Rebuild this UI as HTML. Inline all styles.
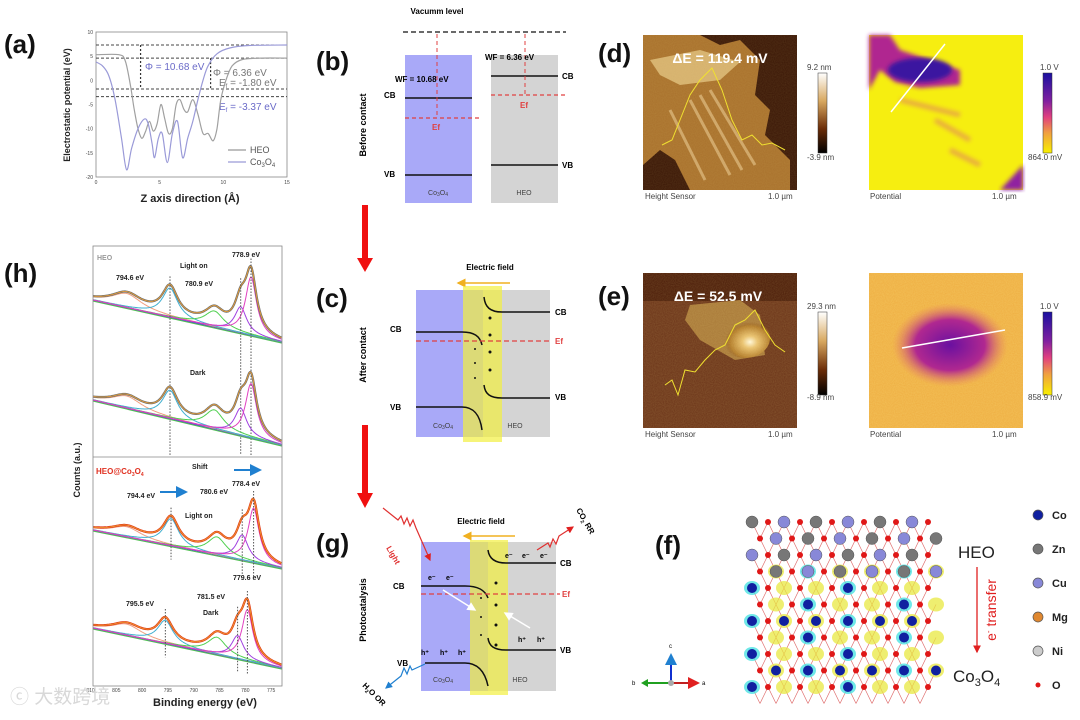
<!DOCTYPE html>
<html><head><meta charset="utf-8">
<style>
html,body{margin:0;padding:0;background:#fff;}
svg{display:block;font-family:"Liberation Sans","Noto Sans CJK SC",sans-serif;}
.pl{font-size:26px;font-weight:bold;fill:#111;}
.sm{font-size:9px;font-weight:bold;fill:#222;}
.tk{font-size:5px;fill:#444;}
</style></head>
<body>
<svg id="fig" width="1080" height="720" viewBox="0 0 1080 720" xmlns="http://www.w3.org/2000/svg">
<defs>
  <linearGradient id="hbar" x1="0" y1="0" x2="0" y2="1"><stop offset="0" stop-color="#fff"/><stop offset="0.35" stop-color="#d8a860"/><stop offset="0.7" stop-color="#6a2c08"/><stop offset="1" stop-color="#000"/></linearGradient>
  <linearGradient id="pbar" x1="0" y1="0" x2="0" y2="1"><stop offset="0" stop-color="#1a10a0"/><stop offset="0.35" stop-color="#8020a0"/><stop offset="0.55" stop-color="#e04080"/><stop offset="0.75" stop-color="#f0a040"/><stop offset="1" stop-color="#f8f000"/></linearGradient>
  <radialGradient id="blobE" cx="0.5" cy="0.5" r="0.5"><stop offset="0" stop-color="#6a10a0"/><stop offset="0.6" stop-color="#b02890"/><stop offset="1" stop-color="#e88060" stop-opacity="0"/></radialGradient>
  <radialGradient id="goldE" cx="0.6" cy="0.6" r="0.5"><stop offset="0" stop-color="#fff8e0"/><stop offset="0.3" stop-color="#e8c070"/><stop offset="0.8" stop-color="#b07828"/><stop offset="1" stop-color="#8a5018" stop-opacity="0"/></radialGradient>
  <filter id="noise" x="0" y="0" width="1" height="1"><feTurbulence type="fractalNoise" baseFrequency="0.9" numOctaves="1" seed="3"/><feColorMatrix values="0 0 0 0 1  0 0 0 0 0.9  0 0 0 0 0.3  0 0 0 0.6 0"/><feComposite in2="SourceGraphic" operator="in"/></filter>
  <filter id="blur2"><feGaussianBlur stdDeviation="2"/></filter>
  <clipPath id="hclip"><rect x="93" y="246" width="189" height="440"/></clipPath>
  <marker id="arrRed" markerWidth="6" markerHeight="6" refX="5" refY="3" orient="auto"><path d="M0,0 L6,3 L0,6 z" fill="#e02020"/></marker>
  <marker id="arrOr" markerWidth="6" markerHeight="6" refX="5" refY="3" orient="auto"><path d="M0,0 L6,3 L0,6 z" fill="#f0b020"/></marker>
  <marker id="arrBl" markerWidth="6" markerHeight="6" refX="5" refY="3" orient="auto"><path d="M0,0 L6,3 L0,6 z" fill="#2080d0"/></marker>
  <marker id="arrW" markerWidth="6" markerHeight="6" refX="5" refY="3" orient="auto"><path d="M0,0 L6,3 L0,6 z" fill="#fff"/></marker>
</defs>

<text class="pl" x="4" y="53">(a)</text>
<text class="pl" x="316" y="70">(b)</text>
<text class="pl" x="316" y="307">(c)</text>
<text class="pl" x="316" y="552">(g)</text>
<text class="pl" x="598" y="62">(d)</text>
<text class="pl" x="598" y="305">(e)</text>
<text class="pl" x="655" y="554">(f)</text>
<text class="pl" x="4" y="282">(h)</text>

<g id="pa">
  <rect x="96" y="32" width="191" height="145" fill="none" stroke="#888" stroke-width="0.8"/>
  <text class="sm" transform="translate(70,105) rotate(-90)" text-anchor="middle">Electrostatic potential (eV)</text>
  <text x="190" y="202" text-anchor="middle" style="font-size:11px;font-weight:bold;fill:#222">Z axis direction (Å)</text>
  <text x="145" y="70" style="font-size:10px;fill:#6a6ac8">Φ = 10.68 eV</text>
  <text x="213" y="76" style="font-size:10px;fill:#777">Φ = 6.36 eV</text>
  <text x="219" y="86" style="font-size:10px;fill:#777">E<tspan font-size="6" dy="2">f</tspan><tspan dy="-2"> = -1.80 eV</tspan></text>
  <text x="219" y="110" style="font-size:10px;fill:#6a6ac8">E<tspan font-size="6" dy="2">f</tspan><tspan dy="-2"> = -3.37 eV</tspan></text>
  <line x1="228" y1="150" x2="246" y2="150" stroke="#999" stroke-width="1.2"/>
  <text x="250" y="153" style="font-size:9px;fill:#555">HEO</text>
  <line x1="228" y1="162" x2="246" y2="162" stroke="#9a9ad8" stroke-width="1.2"/>
  <text x="250" y="165" style="font-size:9px;fill:#555">Co<tspan font-size="6" dy="2">3</tspan><tspan dy="-2">O</tspan><tspan font-size="6" dy="2">4</tspan></text>
</g>

<g>
  <text x="437" y="14" text-anchor="middle" style="font-size:8px;font-weight:bold">Vacumm level</text>
  <line x1="403" y1="32" x2="566" y2="32" stroke="#111" stroke-width="1.3" stroke-dasharray="5,3"/>
  <rect x="405" y="55" width="67" height="148" fill="#a9a9f8"/>
  <rect x="491" y="55" width="67" height="148" fill="#d4d4d4"/>
  <line x1="405" y1="98" x2="472" y2="98" stroke="#111" stroke-width="1.5"/>
  <line x1="405" y1="175" x2="472" y2="175" stroke="#111" stroke-width="1.5"/>
  <line x1="405" y1="118" x2="482" y2="118" stroke="#e04040" stroke-width="1.3" stroke-dasharray="4,3"/>
  <line x1="437" y1="34" x2="437" y2="118" stroke="#e04040" stroke-width="1" stroke-dasharray="4,3"/>
  <line x1="491" y1="76" x2="558" y2="76" stroke="#111" stroke-width="1.5"/>
  <line x1="491" y1="165" x2="558" y2="165" stroke="#111" stroke-width="1.5"/>
  <line x1="491" y1="95" x2="565" y2="95" stroke="#e04040" stroke-width="1.3" stroke-dasharray="4,3"/>
  <line x1="525" y1="34" x2="525" y2="95" stroke="#e04040" stroke-width="1" stroke-dasharray="4,3"/>
  <text x="395" y="82" style="font-size:8px;font-weight:bold">WF = 10.68 eV</text>
  <text x="485" y="60" style="font-size:8px;font-weight:bold">WF = 6.36 eV</text>
  <text x="384" y="98" style="font-size:8px;font-weight:bold">CB</text>
  <text x="384" y="177" style="font-size:8px;font-weight:bold">VB</text>
  <text x="562" y="79" style="font-size:8px;font-weight:bold">CB</text>
  <text x="562" y="168" style="font-size:8px;font-weight:bold">VB</text>
  <text x="432" y="130" style="font-size:8px;font-weight:bold;fill:#e04040">Ef</text>
  <text x="520" y="108" style="font-size:8px;font-weight:bold;fill:#e04040">Ef</text>
  <text x="438" y="195" text-anchor="middle" style="font-size:7px;fill:#444">Co<tspan font-size="5" dy="1">3</tspan><tspan dy="-1">O</tspan><tspan font-size="5" dy="1">4</tspan></text>
  <text x="524" y="195" text-anchor="middle" style="font-size:7px;fill:#444">HEO</text>
  <text transform="translate(366,125) rotate(-90)" text-anchor="middle" style="font-size:9px;font-weight:bold">Before contact</text>
</g>

<g>
  <rect x="362" y="205" width="6" height="55" fill="#f01010"/><path d="M357,258 L373,258 L365,272 z" fill="#f01010"/>
</g>
<g>
  <rect x="362" y="425" width="6" height="70" fill="#f01010"/><path d="M357,493 L373,493 L365,508 z" fill="#f01010"/>
</g>

<g>
  <text x="490" y="270" text-anchor="middle" style="font-size:8px;font-weight:bold">Electric field</text>
  <line x1="510" y1="283" x2="458" y2="283" stroke="#f0b020" stroke-width="1.5" marker-end="url(#arrOr)"/>
  <rect x="416" y="290" width="67" height="147" fill="#a9a9f8"/>
  <rect x="483" y="290" width="67" height="147" fill="#d4d4d4"/>
  <rect x="463" y="286" width="39" height="156" fill="#f2f040" opacity="0.7"/>
  <path d="M416,332 L462,332 C474,332 480,336 482,345" fill="none" stroke="#111" stroke-width="1.5"/>
  <path d="M416,407 L462,407 C474,407 480,415 482,430" fill="none" stroke="#111" stroke-width="1.5"/>
  <path d="M484,297 C485,307 490,312 502,312 L550,312" fill="none" stroke="#111" stroke-width="1.5"/>
  <path d="M484,385 C485,394 490,398 502,398 L550,398" fill="none" stroke="#111" stroke-width="1.5"/>
  <line x1="416" y1="341" x2="552" y2="341" stroke="#e04040" stroke-width="1.3" stroke-dasharray="5,3"/>
  <g fill="#111"><circle cx="490" cy="318" r="1.5"/><circle cx="490" cy="335" r="1.5"/><circle cx="490" cy="352" r="1.5"/><circle cx="490" cy="370" r="1.5"/><circle cx="475" cy="349" r="1"/><circle cx="475" cy="363" r="1"/><circle cx="475" cy="378" r="1"/></g>
  <text x="390" y="332" style="font-size:8px;font-weight:bold">CB</text>
  <text x="390" y="410" style="font-size:8px;font-weight:bold">VB</text>
  <text x="555" y="315" style="font-size:8px;font-weight:bold">CB</text>
  <text x="555" y="400" style="font-size:8px;font-weight:bold">VB</text>
  <text x="555" y="344" style="font-size:8px;font-weight:bold;fill:#e04040">Ef</text>
  <text x="443" y="428" text-anchor="middle" style="font-size:7px;fill:#444">Co<tspan font-size="5" dy="1">3</tspan><tspan dy="-1">O</tspan><tspan font-size="5" dy="1">4</tspan></text>
  <text x="515" y="428" text-anchor="middle" style="font-size:7px;fill:#444">HEO</text>
  <text transform="translate(366,355) rotate(-90)" text-anchor="middle" style="font-size:9px;font-weight:bold">After contact</text>
</g>

<g>
  <text x="481" y="524" text-anchor="middle" style="font-size:8px;font-weight:bold">Electric field</text>
  <line x1="515" y1="536" x2="464" y2="536" stroke="#f0b020" stroke-width="1.5" marker-end="url(#arrOr)"/>
  <rect x="421" y="542" width="67" height="149" fill="#a9a9f8"/>
  <rect x="488" y="542" width="68" height="149" fill="#d4d4d4"/>
  <rect x="470" y="540" width="38" height="155" fill="#f2f040" opacity="0.7"/>
  <path d="M421,586 L465,586 C478,586 485,590 488,598" fill="none" stroke="#111" stroke-width="1.5"/>
  <path d="M425,663 L465,663 C478,663 485,672 488,686" fill="none" stroke="#111" stroke-width="1.5"/>
  <path d="M488,550 C489,558 494,563 506,563 L556,563" fill="none" stroke="#111" stroke-width="1.5"/>
  <path d="M488,638 C489,646 494,650 506,650 L556,650" fill="none" stroke="#111" stroke-width="1.5"/>
  <line x1="421" y1="594" x2="560" y2="594" stroke="#e04040" stroke-width="1.3" stroke-dasharray="5,3"/>
  <g fill="#111"><circle cx="496" cy="583" r="1.5"/><circle cx="496" cy="605" r="1.5"/><circle cx="496" cy="625" r="1.5"/><circle cx="496" cy="645" r="1.5"/><circle cx="481" cy="598" r="1"/><circle cx="481" cy="617" r="1"/><circle cx="481" cy="635" r="1"/></g>
  <g style="font-size:7px;font-weight:bold">
    <text x="505" y="558">e⁻</text><text x="522" y="558">e⁻</text><text x="540" y="558">e⁻</text>
    <text x="428" y="580">e⁻</text><text x="446" y="580">e⁻</text>
    <text x="518" y="642">h⁺</text><text x="537" y="642">h⁺</text>
    <text x="421" y="655">h⁺</text><text x="440" y="655">h⁺</text><text x="458" y="655">h⁺</text>
  </g>
  <line x1="443" y1="590" x2="475" y2="610" stroke="#fff" stroke-width="1.5" marker-end="url(#arrW)"/>
  <line x1="530" y1="628" x2="505" y2="613" stroke="#fff" stroke-width="1.5" marker-end="url(#arrW)"/>
  <path d="M383,508 L398,520 L401,516 L404,524 L407,518 L410,526 L413,520 L416,528 L430,560" fill="none" stroke="#e03030" stroke-width="1.2" marker-end="url(#arrRed)"/>
  <text transform="translate(386,548) rotate(60)" style="font-size:8px;font-weight:bold;fill:#e03030">Light</text>
  <path d="M537,550 L548,543 L550,547 L553,539 L556,544 L559,536 L573,527" fill="none" stroke="#e03030" stroke-width="1.2" marker-end="url(#arrRed)"/>
  <text transform="translate(576,510) rotate(60)" style="font-size:8px;font-weight:bold">CO<tspan font-size="5" dy="2">2</tspan><tspan dy="-2"> RR</tspan></text>
  <path d="M425,664 L412,670 L410,666 L407,674 L404,668 L401,676 L386,688" fill="none" stroke="#2080d0" stroke-width="1.2" marker-end="url(#arrBl)"/>
  <text transform="translate(362,686) rotate(45)" style="font-size:8px;font-weight:bold">H<tspan font-size="5" dy="2">2</tspan><tspan dy="-2">O OR</tspan></text>
  <text x="393" y="589" style="font-size:8px;font-weight:bold">CB</text>
  <text x="397" y="666" style="font-size:8px;font-weight:bold">VB</text>
  <text x="560" y="566" style="font-size:8px;font-weight:bold">CB</text>
  <text x="560" y="653" style="font-size:8px;font-weight:bold">VB</text>
  <text x="562" y="597" style="font-size:8px;font-weight:bold;fill:#e04040">Ef</text>
  <text x="443" y="682" text-anchor="middle" style="font-size:7px;fill:#444">Co<tspan font-size="5" dy="1">3</tspan><tspan dy="-1">O</tspan><tspan font-size="5" dy="1">4</tspan></text>
  <text x="520" y="682" text-anchor="middle" style="font-size:7px;fill:#444">HEO</text>
  <text transform="translate(366,610) rotate(-90)" text-anchor="middle" style="font-size:9px;font-weight:bold">Photocatalysis</text>
</g>

<g>
  <g>
    <rect x="643" y="35" width="154" height="155" fill="#3a1606"/>
    <path d="M643,35 L700,35 L720,45 L740,40 L760,60 L755,95 L770,110 L765,135 L790,160 L790,190 L690,190 L675,160 L660,150 L643,165 z" fill="#a8702c"/>
    <path d="M650,60 L700,50 L740,62 L720,80 L680,85 L660,75 z" fill="#e0c080" opacity="0.8"/>
    <path d="M690,100 L730,175 M700,95 L742,170 M710,90 L755,165 M670,110 L705,180" stroke="#e8c890" stroke-width="3" opacity="0.6"/>
    <rect x="643" y="35" width="154" height="155" filter="url(#noise)" opacity="0.2" fill="#fff"/>
    <polyline points="662,145 672,140 680,120 690,95 700,80 712,68 722,90 732,120 742,140 752,135 762,145 772,143 785,150" fill="none" stroke="#f0e030" stroke-width="1"/>
    <text x="720" y="63" text-anchor="middle" style="font-size:14px;font-weight:bold;fill:#fff">ΔE = 119.4 mV</text>
  </g>
  <rect x="818" y="73" width="9" height="80" fill="url(#hbar)" stroke="#333" stroke-width="0.5"/>
  <text x="807" y="70" style="font-size:8px;fill:#444">9.2 nm</text>
  <text x="807" y="160" style="font-size:8px;fill:#444">-3.9 nm</text>
  <text x="645" y="199" style="font-size:8px;fill:#444">Height Sensor</text>
  <text x="768" y="199" style="font-size:8px;fill:#444">1.0 µm</text>
  <g>
    <rect x="869" y="35" width="154" height="155" fill="#f6ee10"/>
    <path d="M869,35 L890,35 L900,50 L960,70 L960,85 L920,88 L895,82 L880,70 L869,90 z" fill="#b02890" filter="url(#blur2)"/>
    <ellipse cx="920" cy="70" rx="32" ry="12" fill="#3a18a0" filter="url(#blur2)"/>
    <path d="M935,120 L970,140 M900,100 L960,115 M950,150 L980,165" stroke="#e08060" stroke-width="5" opacity="0.6" filter="url(#blur2)"/>
    <path d="M1023,165 L1023,190 L1000,190 z" fill="#9020a0" filter="url(#blur2)"/>
    <line x1="891" y1="112" x2="945" y2="44" stroke="#fff" stroke-width="1.5"/>
  </g>
  <rect x="1043" y="73" width="9" height="80" fill="url(#pbar)" stroke="#333" stroke-width="0.5"/>
  <text x="1040" y="70" style="font-size:8px;fill:#444">1.0 V</text>
  <text x="1028" y="160" style="font-size:8px;fill:#444">864.0 mV</text>
  <text x="870" y="199" style="font-size:8px;fill:#444">Potential</text>
  <text x="992" y="199" style="font-size:8px;fill:#444">1.0 µm</text>
</g>

<g>
  <g>
    <rect x="643" y="273" width="154" height="155" fill="#6a3218"/>
    <rect x="643" y="273" width="154" height="28" fill="#4a1a08"/>
    <path d="M690,305 L740,300 L760,315 L765,355 L735,360 L700,340 L685,320 z" fill="#a87838"/>
    <ellipse cx="745" cy="338" rx="25" ry="20" fill="url(#goldE)"/>
    <rect x="643" y="273" width="154" height="155" filter="url(#noise)" opacity="0.3" fill="#fff"/>
    <polyline points="665,385 672,380 678,395 685,370 695,372 705,360 715,350 725,345 735,325 745,320 755,310 765,330 775,345 785,352" fill="none" stroke="#f0e030" stroke-width="1"/>
    <text x="718" y="301" text-anchor="middle" style="font-size:14px;font-weight:bold;fill:#fff">ΔE = 52.5 mV</text>
  </g>
  <rect x="818" y="312" width="9" height="83" fill="url(#hbar)" stroke="#333" stroke-width="0.5"/>
  <text x="807" y="309" style="font-size:8px;fill:#444">29.3 nm</text>
  <text x="807" y="400" style="font-size:8px;fill:#444">-8.9 nm</text>
  <text x="645" y="437" style="font-size:8px;fill:#444">Height Sensor</text>
  <text x="768" y="437" style="font-size:8px;fill:#444">1.0 µm</text>
  <g>
    <rect x="869" y="273" width="154" height="155" fill="#eeac40"/>
    <rect x="869" y="273" width="154" height="155" filter="url(#noise)" opacity="0.5" fill="#fff"/>
    <ellipse cx="950" cy="345" rx="58" ry="42" fill="url(#blobE)"/>
    <line x1="902" y1="348" x2="1005" y2="330" stroke="#fff" stroke-width="1.5"/>
  </g>
  <rect x="1043" y="312" width="9" height="83" fill="url(#pbar)" stroke="#333" stroke-width="0.5"/>
  <text x="1040" y="309" style="font-size:8px;fill:#444">1.0 V</text>
  <text x="1028" y="400" style="font-size:8px;fill:#444">858.9 mV</text>
  <text x="870" y="437" style="font-size:8px;fill:#444">Potential</text>
  <text x="992" y="437" style="font-size:8px;fill:#444">1.0 µm</text>
</g>

<g>
  <g id="lattice"></g>
  <g>
    <line x1="671" y1="683" x2="671" y2="655" stroke="#1030d0" stroke-width="2" marker-end="url(#arrBl)"/>
    <line x1="671" y1="683" x2="698" y2="683" stroke="#c02020" stroke-width="2" marker-end="url(#arrRed)"/>
    <line x1="671" y1="683" x2="645" y2="683" stroke="#20a020" stroke-width="2"/>
    <path d="M641,683 L648,679 L648,687 z" fill="#20a020"/>
    <circle cx="671" cy="683" r="3" fill="#aaa"/>
    <text x="669" y="648" style="font-size:6px">c</text><text x="702" y="685" style="font-size:6px">a</text><text x="632" y="685" style="font-size:6px">b</text>
  </g>
  <text x="958" y="558" style="font-size:17px;fill:#222">HEO</text>
  <line x1="977" y1="567" x2="977" y2="652" stroke="#e02020" stroke-width="1.3" marker-end="url(#arrRed)"/>
  <text transform="translate(996,610) rotate(-90)" text-anchor="middle" style="font-size:14px;fill:#e02020">e<tspan font-size="8" dy="-5">-</tspan><tspan dy="5"> transfer</tspan></text>
  <text x="953" y="682" style="font-size:17px;fill:#222">Co<tspan font-size="11" dy="4">3</tspan><tspan dy="-4">O</tspan><tspan font-size="11" dy="4">4</tspan></text>
  <g id="legendF"></g>
</g>

<g id="ph">
  <g id="phc" clip-path="url(#hclip)"></g>
  <rect x="93" y="246" width="189" height="440" fill="none" stroke="#888" stroke-width="0.8"/>
  <line x1="93" y1="457" x2="282" y2="457" stroke="#888" stroke-width="0.8"/>
  <text class="sm" transform="translate(80,470) rotate(-90)" text-anchor="middle">Counts (a.u.)</text>
  <text x="205" y="706" text-anchor="middle" style="font-size:11px;font-weight:bold;fill:#222">Binding energy (eV)</text>
  <text x="97" y="260" style="font-size:7px;font-weight:bold;fill:#999">HEO</text>
  <text x="96" y="474" style="font-size:8px;font-weight:bold;fill:#e03020">HEO@Co<tspan font-size="5" dy="2">3</tspan><tspan dy="-2">O</tspan><tspan font-size="5" dy="2">4</tspan></text>
  <g style="font-size:7px;font-weight:bold;fill:#222">
    <text x="180" y="268">Light on</text><text x="116" y="280">794.6 eV</text><text x="185" y="286">780.9 eV</text><text x="232" y="257">778.9 eV</text>
    <text x="190" y="375">Dark</text>
    <text x="192" y="469">Shift</text><text x="232" y="486">778.4 eV</text><text x="127" y="498">794.4 eV</text><text x="200" y="494">780.6 eV</text><text x="185" y="518">Light on</text>
    <text x="233" y="580">779.6 eV</text><text x="197" y="599">781.5 eV</text><text x="126" y="606">795.5 eV</text><text x="203" y="615">Dark</text>
  </g>
  <line x1="234" y1="470" x2="260" y2="470" stroke="#2080d0" stroke-width="2" marker-end="url(#arrBl)"/>
  <line x1="160" y1="492" x2="186" y2="492" stroke="#2080d0" stroke-width="2" marker-end="url(#arrBl)"/>
</g>
<text x="10" y="703" style="font-size:19px;fill:#d8d8d8">ⓒ 大数跨境</text>
</svg>

<script>
// ---------- Panel (a) data ----------
const heoZ = [0,1.8,2.3,2.7,3.0,3.3,3.6,3.9,4.2,4.5,4.8,5.1,5.4,5.7,6.0,6.3,6.6,6.9,7.2,7.6,8.0,8.4,8.8,9.2,9.5,9.8,10.2,10.7,11.5,13,15];
const heoV = [5.3,5.3,4,-1,-6,-10,-12,-10.5,-8.5,-10.5,-9,-5,-8,-11,-10,-5,-4,-6,-6.5,-4,-7,-11,-11,-12.5,-10,-4,0,3,4.3,4.6,4.6];
const coZ = [0,0.5,1.0,1.5,2.0,2.4,2.8,3.3,3.8,4.1,4.4,4.6,4.9,5.2,5.6,6.0,6.4,6.8,7.2,7.6,8.0,8.4,8.8,9.5,10.5,12,15];
const coV = [3.8,3,1,-4,-12,-18.5,-14,-10,-8,-9,-13,-16,-12,-11,-17,-11,-8.5,-16,-12,-8.5,-4,0,3,5.5,6.7,7.2,7.3];
const levelValues = [7.3, 4.6, -1.8, -3.37];
const aXTicks = [0,5,10,15];
const aYTicks = [10,5,0,-5,-10,-15,-20];
const wfMarkers = [[3.5,7.3,-1.8],[9.0,4.6,-1.8]];

// ---------- Panel (h) data ----------
const xpsTicks = [810,805,800,795,790,785,780,775];
const baseLeft = [300,400,530,628];
const baseRight = [342,445,568,668];
const satCenters = [803,803,803,803];
const satHeights = [14,12,10,11];
const p2Centers = [794.6,794.6,794.4,795.5];
const p2Heights = [29,28,27,23];
const greenCenters = [786,786,785.5,785.5];
const greenHeights = [16,19,18,17];
const satPCenters = [780.9,780.9,780.6,781.5];
const satPHeights = [26,27,25,23];
const mainCenters = [778.9,778.9,778.4,779.6];
const mainHeights = [58,54,54,51];
const traceColors = ['#707070','#707070','#e03a1a','#e03a1a'];
const dottedSets = [[794.6,780.9,778.9],[794.6,780.9,778.9],[794.4,780.6,778.4],[795.5,781.5,779.6]];

const NS = 'http://www.w3.org/2000/svg';
function mk(tag, attrs, parent){const e=document.createElementNS(NS,tag);for(const k in attrs)e.setAttribute(k,attrs[k]);parent.appendChild(e);return e;}
function smooth(pts){let d='M'+pts[0][0].toFixed(1)+','+pts[0][1].toFixed(1);for(let i=0;i<pts.length-1;i++){const p0=pts[Math.max(0,i-1)],p1=pts[i],p2=pts[i+1],p3=pts[Math.min(pts.length-1,i+2)];const c1=[p1[0]+(p2[0]-p0[0])/6,p1[1]+(p2[1]-p0[1])/6],c2=[p2[0]-(p3[0]-p1[0])/6,p2[1]-(p3[1]-p1[1])/6];d+=' C'+c1[0].toFixed(1)+','+c1[1].toFixed(1)+' '+c2[0].toFixed(1)+','+c2[1].toFixed(1)+' '+p2[0].toFixed(1)+','+p2[1].toFixed(1);}return d;}

const pa=document.getElementById('pa');
const xa=v=>96+v/15*191, ya=v=>32+(10-v)/30*145;
levelValues.forEach((v,i)=>{const l=mk('line',{x1:96,x2:287,y1:ya(v),y2:ya(v),stroke:'#444','stroke-width':1,'stroke-dasharray':'3,2'},pa);

});
wfMarkers.forEach((m,i)=>{const l=mk('line',{x1:xa(m[0]),x2:xa(m[0]),y1:ya(m[1]),y2:ya(m[2]),stroke:'#333','stroke-width':1.2,'stroke-dasharray':'2,2'},pa);

});
const heoPath=mk('path',{d:smooth(heoZ.map((z,i)=>[xa(z),ya(heoV[i])])),fill:'none',stroke:'#a0a0a0','stroke-width':1.2},pa);


const coPath=mk('path',{d:smooth(coZ.map((z,i)=>[xa(z),ya(coV[i])])),fill:'none',stroke:'#9a9ad8','stroke-width':1.2},pa);


aXTicks.forEach(t=>{const tx=mk('text',{x:xa(t),y:184,'text-anchor':'middle',class:'tk'},pa);tx.textContent=t;

});
aYTicks.forEach(t=>{const tx=mk('text',{x:93,y:ya(t)+2,'text-anchor':'end',class:'tk'},pa);tx.textContent=t;

});

const ph=document.getElementById('ph');
const phc=document.getElementById('phc');
const xh=e=>170+(794.6-e)*5.16;
const E0=809.5,E1=772.9;
function lor(e,c,h,w){return h/(1+((e-c)/w)**2);}
for(let s=0;s<4;s++){
  const base=e=>baseLeft[s]+(baseRight[s]-baseLeft[s])*(E0-e)/(E0-E1);
  const comps=[[satCenters[s],satHeights[s],3.5,'#f0a080'],[p2Centers[s],p2Heights[s],1.8,'#40b0d0'],[greenCenters[s],greenHeights[s],2.2,'#50d050'],[satPCenters[s],satPHeights[s],1.4,'#a040e0'],[mainCenters[s],mainHeights[s],1.3,'#e040c0']];
  const es=[];for(let e=E0;e>=E1;e-=0.25)es.push(e);
  const bl=mk('line',{x1:xh(E0),y1:base(E0)+1,x2:xh(E1),y2:base(E1)+1,stroke:'#50c050','stroke-width':1.2},phc);
  
  
  const bl2=mk('line',{x1:xh(E0),y1:base(E0),x2:xh(E1),y2:base(E1),stroke:'#5050c8','stroke-width':1.2},phc);
  
  
  comps.forEach((c,ci)=>{const p=mk('path',{d:smooth(es.map(e=>[xh(e),base(e)-lor(e,c[0],c[1],c[2])])),fill:'none',stroke:c[3],'stroke-width':1},phc);
  
  });
  const tot=es.map(e=>[xh(e),base(e)-comps.reduce((a,c)=>a+lor(e,c[0],c[1],c[2]),0)]);
  const tr=mk('path',{d:smooth(tot),fill:'none',stroke:traceColors[s],'stroke-width':2.2},phc);
  
  
  const env=mk('path',{d:smooth(tot),fill:'none',stroke:'#f0a030','stroke-width':0.8},phc);
  
  
  if(s===1) continue;
  dottedSets[s].forEach((e,k)=>{let y0=base(e)-comps.reduce((a,c)=>a+lor(e,c[0],c[1],c[2]),0)-8;
    let y1=base(e)+14;
    if(s===0){y1=455;}
    const l=mk('line',{x1:xh(e),x2:xh(e),y1:y0,y2:y1,stroke:'#555','stroke-width':1,'stroke-dasharray':'1.5,1.5'},phc);
    
    });
}
xpsTicks.forEach(t=>{const tx=mk('text',{x:xh(t),y:692,'text-anchor':'middle',class:'tk'},ph);tx.textContent=t;

});

const lat=document.getElementById('lattice');
const topTypes=['#777','#aaa','#8888d8','#e08830'];
for(let r=0;r<11;r++){for(let c=0;c<12;c++){
  const x=752+c*16+(r%2)*8, y=522+r*16.5;
  if(c<11){const b=mk('line',{x1:x,y1:y,x2:x+8,y2:y+16.5,stroke:'#e07070','stroke-width':0.7},lat);
  
  }
  if(c>0){const b=mk('line',{x1:x,y1:y,x2:x-8,y2:y+16.5,stroke:'#e07070','stroke-width':0.7},lat);
  
  }
  if(r>=3 && (r+c)%2===0){const bl=mk('ellipse',{cx:x,cy:y,rx:8,ry:7,fill:(c%3===0?'#40e0e0':'#e8e840'),opacity:0.75},lat);
  
  }
}}
for(let r=0;r<11;r++){for(let c=0;c<12;c++){
  const x=752+c*16+(r%2)*8, y=522+r*16.5;
  if((r+c)%2===1){const a=mk('circle',{cx:x,cy:y,r:3,fill:'#e01818'},lat);
  
  }
  else if(r<4){const a=mk('circle',{cx:x,cy:y,r:6,fill:topTypes[(c+r)%4],stroke:'#555','stroke-width':0.5},lat);
  
  }
  else if((r*c)%3===0){const a=mk('circle',{cx:x,cy:y,r:5,fill:'#1020a0'},lat);
  
  }
}}
const legNames=['Co','Zn','Cu','Mg','Ni','O'];
const legColors=['#1020a0','#777','#8888d8','#e08830','#ccc','#e01818'];
const lg=document.getElementById('legendF');
legNames.forEach((n,i)=>{const y=515+i*34;
  const c=mk('circle',{cx:1038,cy:y,r:i===5?2.5:5,fill:legColors[i],stroke:'#555','stroke-width':i===5?0:0.7},lg);
  
  
  const t=mk('text',{x:1052,y:y+4,style:'font-size:11px;font-weight:bold;fill:#222'},lg);t.textContent=n;
  
  });
</script>
</body></html>
